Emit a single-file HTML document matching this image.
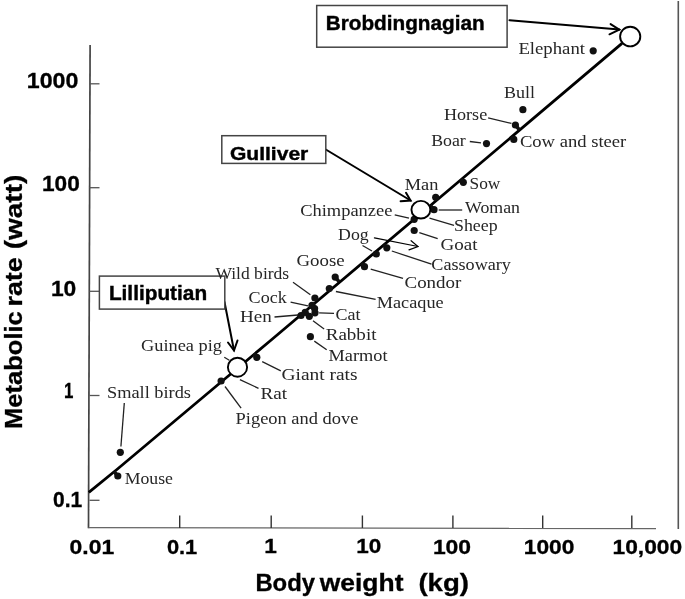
<!DOCTYPE html><html><head><meta charset="utf-8"><style>html,body{margin:0;padding:0;background:#fff;overflow:hidden}svg{display:block;will-change:transform;}</style></head><body>
<svg width="685" height="599" viewBox="0 0 685 599">
<rect x="0" y="0" width="685" height="599" fill="#fff"/>
<line x1="90.1" y1="45" x2="88.5" y2="528.3" stroke="#444" stroke-width="1.7"/>
<line x1="88.5" y1="527.7" x2="656" y2="528.5" stroke="#666" stroke-width="1.3"/>
<g stroke="#555" stroke-width="1.3" fill="none">
<line x1="89.5" y1="83.8" x2="99.5" y2="83.8"/>
<line x1="89.5" y1="187.7" x2="99.5" y2="187.7"/>
<line x1="89.5" y1="291.3" x2="99.5" y2="291.3"/>
<line x1="89.5" y1="395.5" x2="99.5" y2="395.5"/>
<line x1="89.5" y1="500.3" x2="99.5" y2="500.3"/>
</g>
<g stroke="#333" stroke-width="1.4" fill="none">
<line x1="179.7" y1="515.5" x2="179.7" y2="528"/>
<line x1="271.2" y1="515.5" x2="271.2" y2="528"/>
<line x1="362.4" y1="515.5" x2="362.4" y2="528"/>
<line x1="452.9" y1="515.5" x2="452.9" y2="528"/>
<line x1="542.7" y1="515.5" x2="542.7" y2="528"/>
<line x1="631.8" y1="515.5" x2="631.8" y2="528"/>
</g>
<line x1="678.3" y1="1" x2="678.3" y2="529" stroke="#555" stroke-width="1.6"/>
<polyline points="88.8,492.3 117.5,469.0 270,341.0 450,189.0 622,43.4" fill="none" stroke="#000" stroke-width="2.8" stroke-linejoin="round"/>
<g stroke="#222" stroke-width="1.3" fill="none">
<line x1="488.1" y1="117.9" x2="511.5" y2="123.4"/>
<line x1="469.8" y1="141.5" x2="481.0" y2="142.8"/>
<line x1="438.7" y1="210.0" x2="462.2" y2="210.0"/>
<line x1="394.7" y1="214.8" x2="409.0" y2="218.2"/>
<line x1="429.5" y1="218.2" x2="454.0" y2="225.4"/>
<line x1="419.3" y1="232.6" x2="437.7" y2="238.7"/>
<line x1="362.5" y1="245.5" x2="372.0" y2="251.0"/>
<line x1="391.8" y1="251.0" x2="431.5" y2="264.2"/>
<line x1="370.7" y1="269.1" x2="403.0" y2="278.3"/>
<line x1="335.9" y1="291.5" x2="375.6" y2="299.4"/>
<line x1="293.0" y1="282.3" x2="310.4" y2="294.7"/>
<line x1="290.6" y1="302.1" x2="308.0" y2="305.8"/>
<line x1="274.5" y1="317.0" x2="298.0" y2="315.0"/>
<line x1="319.1" y1="312.8" x2="334.0" y2="313.3"/>
<line x1="313.0" y1="320.7" x2="324.1" y2="328.9"/>
<line x1="314.3" y1="341.1" x2="326.7" y2="349.8"/>
<line x1="224.3" y1="357.2" x2="229.3" y2="360.2"/>
<line x1="262.2" y1="361.7" x2="280.8" y2="370.9"/>
<line x1="239.9" y1="379.6" x2="258.5" y2="388.3"/>
<line x1="225.0" y1="386.5" x2="241.1" y2="408.1"/>
<line x1="124.3" y1="403.0" x2="120.9" y2="446.5"/>
</g>
<g stroke="#000" stroke-width="2.0" fill="none" stroke-linecap="round"><line x1="509.5" y1="20.2" x2="619.3" y2="29.6"/><polyline points="610.6,24.1 619.3,29.6 609.5,34.3"/></g>
<g stroke="#000" stroke-width="2.0" fill="none" stroke-linecap="round"><line x1="325.8" y1="149.5" x2="410.6" y2="200.5"/><polyline points="406.0,192.8 410.6,200.5 400.6,201.2"/></g>
<g stroke="#000" stroke-width="2.0" fill="none" stroke-linecap="round"><line x1="224.5" y1="302.0" x2="234.0" y2="350.5"/><polyline points="228.0,342.5 234.0,350.5 237.5,340.5"/></g>
<g stroke="#000" stroke-width="1.2" fill="none" stroke-linecap="round"><line x1="374.4" y1="237.9" x2="418.0" y2="246.5"/><polyline points="411.1,240.7 418.0,246.5 409.0,249.9"/></g>
<g fill="#111">
<circle cx="593.2" cy="50.8" r="3.6"/>
<circle cx="522.9" cy="109.7" r="3.6"/>
<circle cx="515.4" cy="125.0" r="3.6"/>
<circle cx="486.5" cy="143.6" r="3.6"/>
<circle cx="513.8" cy="139.4" r="3.6"/>
<circle cx="463.3" cy="182.3" r="3.6"/>
<circle cx="435.7" cy="197.3" r="3.6"/>
<circle cx="434.0" cy="209.7" r="3.6"/>
<circle cx="414.2" cy="219.3" r="3.6"/>
<circle cx="414.2" cy="230.5" r="3.6"/>
<circle cx="386.8" cy="247.8" r="3.6"/>
<circle cx="376.3" cy="254.0" r="3.6"/>
<circle cx="364.5" cy="266.7" r="3.6"/>
<circle cx="335.2" cy="277.1" r="3.6"/>
<circle cx="329.3" cy="288.5" r="3.6"/>
<circle cx="314.9" cy="298.0" r="3.6"/>
<circle cx="312.0" cy="305.4" r="3.6"/>
<circle cx="315.0" cy="312.8" r="3.6"/>
<circle cx="309.3" cy="316.3" r="3.6"/>
<circle cx="301.0" cy="315.5" r="3.6"/>
<circle cx="310.4" cy="336.7" r="3.6"/>
<circle cx="305.2" cy="312.3" r="3.6"/>
<circle cx="314.6" cy="308.6" r="3.6"/>
<circle cx="256.8" cy="357.3" r="3.6"/>
<circle cx="221.1" cy="381.0" r="3.6"/>
<circle cx="120.3" cy="452.3" r="3.6"/>
<circle cx="117.8" cy="476.0" r="3.6"/>
</g>
<g stroke="#111" stroke-width="3.6" stroke-linecap="butt">
<line x1="515.4" y1="125.0" x2="519.43" y2="129.79"/>
<line x1="513.8" y1="139.4" x2="511.40" y2="136.55"/>
<line x1="463.3" y1="182.3" x2="460.72" y2="179.24"/>
<line x1="434.0" y1="209.7" x2="430.08" y2="205.05"/>
<line x1="386.8" y1="247.8" x2="383.70" y2="244.12"/>
<line x1="376.3" y1="254.0" x2="374.50" y2="251.86"/>
<line x1="364.5" y1="266.7" x2="361.34" y2="262.95"/>
<line x1="335.2" y1="277.1" x2="339.07" y2="281.70"/>
<line x1="314.9" y1="298.0" x2="316.90" y2="300.38"/>
<line x1="309.3" y1="316.3" x2="304.61" y2="310.73"/>
<line x1="314.6" y1="308.6" x2="311.50" y2="304.92"/>
<line x1="256.8" y1="357.3" x2="253.69" y2="353.61"/>
<line x1="117.8" y1="476.0" x2="113.89" y2="471.36"/>
</g>
<ellipse cx="630.2" cy="36.6" rx="10.1" ry="9.8" fill="#fff" stroke="#000" stroke-width="1.9"/>
<ellipse cx="420.9" cy="209.7" rx="9.45" ry="8.85" fill="#fff" stroke="#000" stroke-width="1.9"/>
<ellipse cx="237.5" cy="367.2" rx="9.6" ry="9.5" fill="#fff" stroke="#000" stroke-width="1.9"/>
<rect x="316.7" y="5.5" width="190.4" height="41.7" fill="#fff" stroke="#444" stroke-width="1.5"/>
<text x="325.80" y="29.8" font-family="Liberation Sans" font-weight="bold" font-size="19.5" textLength="158.80" lengthAdjust="spacingAndGlyphs" fill="#000" stroke="#000" stroke-width="0.4" xml:space="preserve">Brobdingnagian</text>
<rect x="221.8" y="135.7" width="104.0" height="27.7" fill="#fff" stroke="#444" stroke-width="1.5"/>
<text x="229.90" y="159.7" font-family="Liberation Sans" font-weight="bold" font-size="18.8" textLength="78.40" lengthAdjust="spacingAndGlyphs" fill="#000" stroke="#000" stroke-width="0.4" xml:space="preserve">Gulliver</text>
<rect x="99.4" y="276.1" width="125.4" height="33.0" fill="#fff" stroke="#444" stroke-width="1.5"/>
<text x="108.90" y="299.5" font-family="Liberation Sans" font-weight="bold" font-size="19.5" textLength="98.20" lengthAdjust="spacingAndGlyphs" fill="#000" stroke="#000" stroke-width="0.4" xml:space="preserve">Lilliputian</text>
<text x="518.40" y="54.3" font-family="Liberation Serif" font-weight="normal" font-size="17.3" textLength="66.60" lengthAdjust="spacingAndGlyphs" fill="#262626" xml:space="preserve">Elephant</text>
<text x="504.00" y="98.1" font-family="Liberation Serif" font-weight="normal" font-size="17.3" textLength="31.00" lengthAdjust="spacingAndGlyphs" fill="#262626" xml:space="preserve">Bull</text>
<text x="444.00" y="120.4" font-family="Liberation Serif" font-weight="normal" font-size="17.3" textLength="43.20" lengthAdjust="spacingAndGlyphs" fill="#262626" xml:space="preserve">Horse</text>
<text x="431.20" y="146.1" font-family="Liberation Serif" font-weight="normal" font-size="17.3" textLength="34.60" lengthAdjust="spacingAndGlyphs" fill="#262626" xml:space="preserve">Boar</text>
<text x="519.90" y="147.3" font-family="Liberation Serif" font-weight="normal" font-size="17.3" textLength="106.40" lengthAdjust="spacingAndGlyphs" fill="#262626" xml:space="preserve">Cow and steer</text>
<text x="469.50" y="189.3" font-family="Liberation Serif" font-weight="normal" font-size="17.3" textLength="30.80" lengthAdjust="spacingAndGlyphs" fill="#262626" xml:space="preserve">Sow</text>
<text x="404.80" y="190.1" font-family="Liberation Serif" font-weight="normal" font-size="17.3" textLength="33.60" lengthAdjust="spacingAndGlyphs" fill="#262626" xml:space="preserve">Man</text>
<text x="465.00" y="213.0" font-family="Liberation Serif" font-weight="normal" font-size="17.3" textLength="55.00" lengthAdjust="spacingAndGlyphs" fill="#262626" xml:space="preserve">Woman</text>
<text x="300.20" y="215.7" font-family="Liberation Serif" font-weight="normal" font-size="17.3" textLength="92.20" lengthAdjust="spacingAndGlyphs" fill="#262626" xml:space="preserve">Chimpanzee</text>
<text x="454.00" y="231.3" font-family="Liberation Serif" font-weight="normal" font-size="17.3" textLength="43.60" lengthAdjust="spacingAndGlyphs" fill="#262626" xml:space="preserve">Sheep</text>
<text x="440.50" y="249.5" font-family="Liberation Serif" font-weight="normal" font-size="17.3" textLength="37.00" lengthAdjust="spacingAndGlyphs" fill="#262626" xml:space="preserve">Goat</text>
<text x="338.10" y="240.0" font-family="Liberation Serif" font-weight="normal" font-size="17.3" textLength="30.60" lengthAdjust="spacingAndGlyphs" fill="#262626" xml:space="preserve">Dog</text>
<text x="431.30" y="270.1" font-family="Liberation Serif" font-weight="normal" font-size="17.3" textLength="79.60" lengthAdjust="spacingAndGlyphs" fill="#262626" xml:space="preserve">Cassowary</text>
<text x="296.50" y="266.4" font-family="Liberation Serif" font-weight="normal" font-size="17.3" textLength="48.20" lengthAdjust="spacingAndGlyphs" fill="#262626" xml:space="preserve">Goose</text>
<text x="404.50" y="287.8" font-family="Liberation Serif" font-weight="normal" font-size="17.3" textLength="56.80" lengthAdjust="spacingAndGlyphs" fill="#262626" xml:space="preserve">Condor</text>
<text x="215.40" y="278.8" font-family="Liberation Serif" font-weight="normal" font-size="17.3" textLength="73.80" lengthAdjust="spacingAndGlyphs" fill="#262626" xml:space="preserve">Wild birds</text>
<text x="376.80" y="308.3" font-family="Liberation Serif" font-weight="normal" font-size="17.3" textLength="66.80" lengthAdjust="spacingAndGlyphs" fill="#262626" xml:space="preserve">Macaque</text>
<text x="248.60" y="302.9" font-family="Liberation Serif" font-weight="normal" font-size="17.3" textLength="38.20" lengthAdjust="spacingAndGlyphs" fill="#262626" xml:space="preserve">Cock</text>
<text x="240.00" y="322.3" font-family="Liberation Serif" font-weight="normal" font-size="17.3" textLength="31.80" lengthAdjust="spacingAndGlyphs" fill="#262626" xml:space="preserve">Hen</text>
<text x="335.50" y="319.8" font-family="Liberation Serif" font-weight="normal" font-size="17.3" textLength="25.00" lengthAdjust="spacingAndGlyphs" fill="#262626" xml:space="preserve">Cat</text>
<text x="325.70" y="339.7" font-family="Liberation Serif" font-weight="normal" font-size="17.3" textLength="50.80" lengthAdjust="spacingAndGlyphs" fill="#262626" xml:space="preserve">Rabbit</text>
<text x="328.50" y="360.6" font-family="Liberation Serif" font-weight="normal" font-size="17.3" textLength="59.00" lengthAdjust="spacingAndGlyphs" fill="#262626" xml:space="preserve">Marmot</text>
<text x="141.00" y="351.3" font-family="Liberation Serif" font-weight="normal" font-size="17.3" textLength="81.00" lengthAdjust="spacingAndGlyphs" fill="#262626" xml:space="preserve">Guinea pig</text>
<text x="281.50" y="379.9" font-family="Liberation Serif" font-weight="normal" font-size="17.3" textLength="76.00" lengthAdjust="spacingAndGlyphs" fill="#262626" xml:space="preserve">Giant rats</text>
<text x="107.00" y="398.3" font-family="Liberation Serif" font-weight="normal" font-size="17.3" textLength="84.00" lengthAdjust="spacingAndGlyphs" fill="#262626" xml:space="preserve">Small birds</text>
<text x="260.60" y="399.3" font-family="Liberation Serif" font-weight="normal" font-size="17.3" textLength="26.60" lengthAdjust="spacingAndGlyphs" fill="#262626" xml:space="preserve">Rat</text>
<text x="235.60" y="423.7" font-family="Liberation Serif" font-weight="normal" font-size="17.3" textLength="122.80" lengthAdjust="spacingAndGlyphs" fill="#262626" xml:space="preserve">Pigeon and dove</text>
<text x="124.70" y="484.0" font-family="Liberation Serif" font-weight="normal" font-size="17.3" textLength="48.20" lengthAdjust="spacingAndGlyphs" fill="#262626" xml:space="preserve">Mouse</text>
<text x="26.80" y="88.2" font-family="Liberation Sans" font-weight="bold" font-size="21.3" textLength="51.60" lengthAdjust="spacingAndGlyphs" fill="#000" stroke="#000" stroke-width="0.3" xml:space="preserve">1000</text>
<text x="42.00" y="190.8" font-family="Liberation Sans" font-weight="bold" font-size="21.3" textLength="37.80" lengthAdjust="spacingAndGlyphs" fill="#000" stroke="#000" stroke-width="0.3" xml:space="preserve">100</text>
<text x="50.90" y="296.3" font-family="Liberation Sans" font-weight="bold" font-size="21.3" textLength="25.40" lengthAdjust="spacingAndGlyphs" fill="#000" stroke="#000" stroke-width="0.3" xml:space="preserve">10</text>
<text x="63.90" y="398.2" font-family="Liberation Sans" font-weight="bold" font-size="21.3" textLength="9.40" lengthAdjust="spacingAndGlyphs" fill="#000" stroke="#000" stroke-width="0.3" xml:space="preserve">1</text>
<text x="53.10" y="507.3" font-family="Liberation Sans" font-weight="bold" font-size="21.3" textLength="29.20" lengthAdjust="spacingAndGlyphs" fill="#000" stroke="#000" stroke-width="0.3" xml:space="preserve">0.1</text>
<text x="69.60" y="553.5" font-family="Liberation Sans" font-weight="bold" font-size="20.3" textLength="44.60" lengthAdjust="spacingAndGlyphs" fill="#000" stroke="#000" stroke-width="0.3" xml:space="preserve">0.01</text>
<text x="166.90" y="553.5" font-family="Liberation Sans" font-weight="bold" font-size="20.3" textLength="30.40" lengthAdjust="spacingAndGlyphs" fill="#000" stroke="#000" stroke-width="0.3" xml:space="preserve">0.1</text>
<text x="264.30" y="553.0" font-family="Liberation Sans" font-weight="bold" font-size="20.3" textLength="12.60" lengthAdjust="spacingAndGlyphs" fill="#000" stroke="#000" stroke-width="0.3" xml:space="preserve">1</text>
<text x="356.30" y="553.2" font-family="Liberation Sans" font-weight="bold" font-size="20.3" textLength="25.00" lengthAdjust="spacingAndGlyphs" fill="#000" stroke="#000" stroke-width="0.3" xml:space="preserve">10</text>
<text x="432.90" y="553.5" font-family="Liberation Sans" font-weight="bold" font-size="20.3" textLength="38.20" lengthAdjust="spacingAndGlyphs" fill="#000" stroke="#000" stroke-width="0.3" xml:space="preserve">100</text>
<text x="523.80" y="553.8" font-family="Liberation Sans" font-weight="bold" font-size="20.3" textLength="50.60" lengthAdjust="spacingAndGlyphs" fill="#000" stroke="#000" stroke-width="0.3" xml:space="preserve">1000</text>
<text x="612.50" y="553.8" font-family="Liberation Sans" font-weight="bold" font-size="20.3" textLength="69.60" lengthAdjust="spacingAndGlyphs" fill="#000" stroke="#000" stroke-width="0.3" xml:space="preserve">10,000</text>
<text x="255.40" y="590.7" font-family="Liberation Sans" font-weight="bold" font-size="23.2" textLength="59.60" lengthAdjust="spacingAndGlyphs" fill="#000" stroke="#000" stroke-width="0.3" xml:space="preserve">Body</text>
<text x="319.70" y="590.7" font-family="Liberation Sans" font-weight="bold" font-size="23.2" textLength="83.80" lengthAdjust="spacingAndGlyphs" fill="#000" stroke="#000" stroke-width="0.3" xml:space="preserve">weight</text>
<text x="418.40" y="590.7" font-family="Liberation Sans" font-weight="bold" font-size="23.2" textLength="50.60" lengthAdjust="spacingAndGlyphs" fill="#000" stroke="#000" stroke-width="0.3" xml:space="preserve">(kg)</text>
<text transform="translate(22.4,429.00) rotate(-90)" x="0" y="0" font-family="Liberation Sans" font-weight="bold" font-size="24.0" textLength="117.80" lengthAdjust="spacingAndGlyphs" fill="#000" stroke="#000" stroke-width="0.3" xml:space="preserve">Metabolic</text>
<text transform="translate(22.4,306.50) rotate(-90)" x="0" y="0" font-family="Liberation Sans" font-weight="bold" font-size="24.0" textLength="49.20" lengthAdjust="spacingAndGlyphs" fill="#000" stroke="#000" stroke-width="0.3" xml:space="preserve">rate</text>
<text transform="translate(22.4,249.30) rotate(-90)" x="0" y="0" font-family="Liberation Sans" font-weight="bold" font-size="24.0" textLength="74.60" lengthAdjust="spacingAndGlyphs" fill="#000" stroke="#000" stroke-width="0.3" xml:space="preserve">(watt)</text>
</svg></body></html>
